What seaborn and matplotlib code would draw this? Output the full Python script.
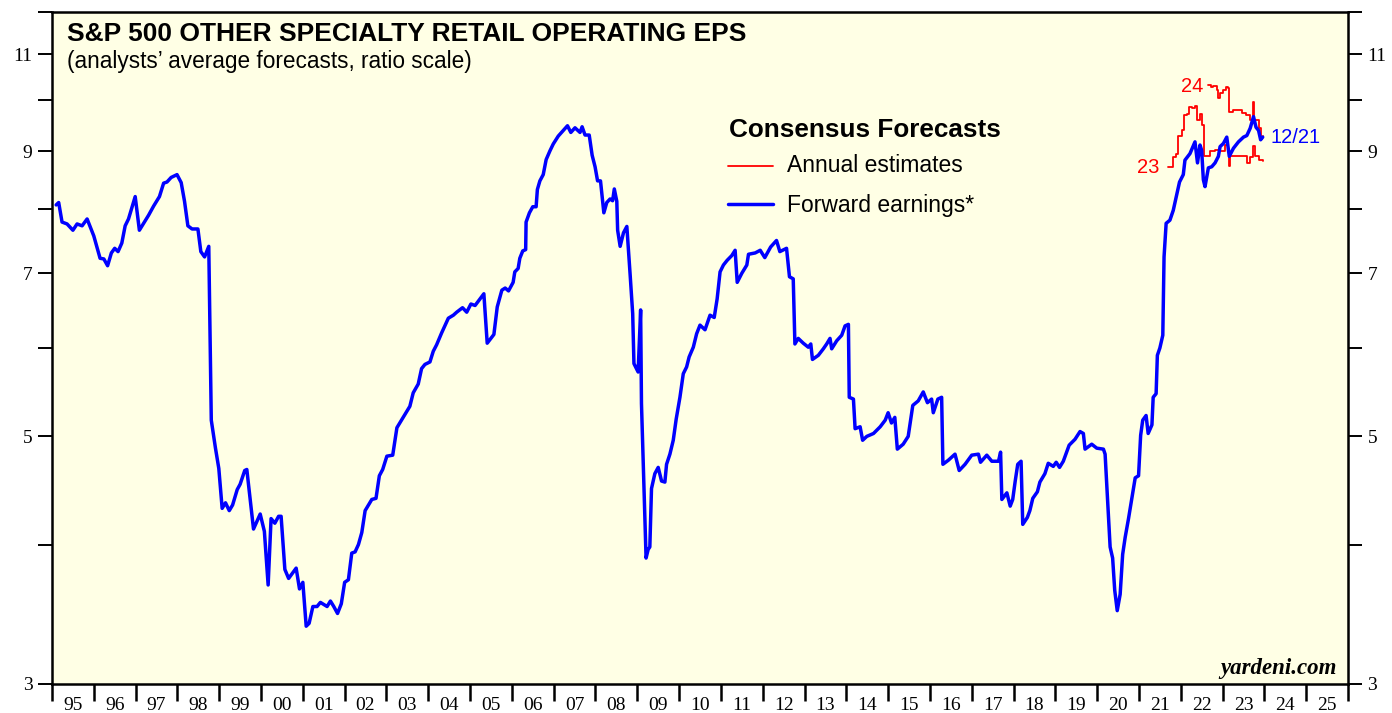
import matplotlib
matplotlib.use("Agg")
import matplotlib.pyplot as plt
import seaborn as sns
import pandas as pd
from matplotlib.ticker import FixedLocator, FuncFormatter, NullLocator
from matplotlib.lines import Line2D

# ---------------- data (decimal year, EPS) ----------------
blue_dates = [
    1995.10, 1995.16, 1995.24, 1995.36, 1995.50, 1995.60, 1995.72, 1995.84, 1996.00, 1996.15,
    1996.24, 1996.33, 1996.42, 1996.50, 1996.58, 1996.67, 1996.75, 1996.83, 1996.99, 1997.09,
    1997.31, 1997.43, 1997.57, 1997.67, 1997.75, 1997.85, 1997.99, 1998.09, 1998.17, 1998.25,
    1998.35, 1998.49, 1998.56, 1998.65, 1998.75, 1998.81, 1998.91, 1998.99, 1999.07, 1999.15,
    1999.24, 1999.32, 1999.43, 1999.50, 1999.61, 1999.66, 1999.82, 1999.98, 2000.08, 2000.17,
    2000.24, 2000.33, 2000.42, 2000.48, 2000.57, 2000.66, 2000.84, 2000.92, 2001.00, 2001.08,
    2001.15, 2001.24, 2001.34, 2001.42, 2001.58, 2001.66, 2001.74, 2001.83, 2001.92, 2002.00,
    2002.09, 2002.17, 2002.25, 2002.33, 2002.41, 2002.49, 2002.65, 2002.75, 2002.83, 2002.91,
    2003.01, 2003.15, 2003.25, 2003.56, 2003.64, 2003.76, 2003.84, 2003.92, 2004.04, 2004.12,
    2004.20, 2004.32, 2004.48, 2004.60, 2004.68, 2004.82, 2004.92, 2005.02, 2005.12, 2005.33,
    2005.41, 2005.57, 2005.65, 2005.76, 2005.84, 2005.92, 2006.03, 2006.07, 2006.15, 2006.19,
    2006.26, 2006.33, 2006.34, 2006.42, 2006.50, 2006.58, 2006.61, 2006.67, 2006.75, 2006.82,
    2006.91, 2006.99, 2007.11, 2007.23, 2007.33, 2007.41, 2007.51, 2007.63, 2007.68, 2007.75,
    2007.85, 2007.92, 2007.99, 2008.05, 2008.12, 2008.20, 2008.27, 2008.35, 2008.41, 2008.45,
    2008.51, 2008.53, 2008.59, 2008.67, 2008.75, 2008.83, 2008.89, 2008.92, 2009.02, 2009.08,
    2009.10, 2009.21, 2009.26, 2009.30, 2009.34, 2009.42, 2009.50, 2009.58, 2009.66, 2009.70,
    2009.78, 2009.86, 2009.93, 2010.02, 2010.10, 2010.18, 2010.24, 2010.34, 2010.42, 2010.50,
    2010.62, 2010.74, 2010.84, 2010.91, 2010.98, 2011.06, 2011.15, 2011.26, 2011.34, 2011.39,
    2011.50, 2011.62, 2011.66, 2011.82, 2011.94, 2012.05, 2012.19, 2012.33, 2012.41, 2012.57,
    2012.64, 2012.73, 2012.77, 2012.85, 2012.97, 2013.09, 2013.15, 2013.19, 2013.33, 2013.45,
    2013.53, 2013.61, 2013.65, 2013.77, 2013.89, 2013.97, 2014.05, 2014.07, 2014.17, 2014.21,
    2014.33, 2014.39, 2014.49, 2014.65, 2014.81, 2014.93, 2015.00, 2015.08, 2015.16, 2015.22,
    2015.36, 2015.48, 2015.59, 2015.72, 2015.84, 2015.94, 2016.04, 2016.08, 2016.19, 2016.28,
    2016.31, 2016.44, 2016.60, 2016.70, 2016.84, 2017.00, 2017.16, 2017.21, 2017.36, 2017.48,
    2017.64, 2017.69, 2017.72, 2017.84, 2017.92, 2017.98, 2018.04, 2018.10, 2018.18, 2018.22,
    2018.33, 2018.39, 2018.46, 2018.57, 2018.63, 2018.75, 2018.83, 2018.95, 2019.02, 2019.10,
    2019.19, 2019.33, 2019.47, 2019.59, 2019.67, 2019.71, 2019.87, 2019.99, 2020.15, 2020.19,
    2020.31, 2020.37, 2020.42, 2020.48, 2020.55, 2020.61, 2020.67, 2020.75, 2020.83, 2020.91,
    2020.99, 2021.04, 2021.09, 2021.17, 2021.22, 2021.31, 2021.34, 2021.41, 2021.44, 2021.50,
    2021.57, 2021.60, 2021.65, 2021.74, 2021.82, 2021.89, 2021.97, 2022.06, 2022.10, 2022.22,
    2022.34, 2022.40, 2022.46, 2022.50, 2022.54, 2022.58, 2022.66, 2022.74, 2022.82, 2022.90,
    2022.94, 2023.02, 2023.10, 2023.16, 2023.26, 2023.38, 2023.50, 2023.58, 2023.66, 2023.74,
    2023.80, 2023.86, 2023.91, 2023.96,
]
blue_values = [
    8.06, 8.10, 7.78, 7.75, 7.65, 7.75, 7.72, 7.83, 7.56, 7.22,
    7.21, 7.11, 7.30, 7.37, 7.32, 7.45, 7.72, 7.83, 8.20, 7.65,
    7.89, 8.04, 8.20, 8.43, 8.45, 8.53, 8.58, 8.44, 8.12, 7.72,
    7.67, 7.67, 7.32, 7.24, 7.40, 5.17, 4.88, 4.68, 4.31, 4.36,
    4.29, 4.34, 4.48, 4.53, 4.66, 4.67, 4.13, 4.26, 4.11, 3.68,
    4.22, 4.18, 4.24, 4.24, 3.80, 3.73, 3.81, 3.65, 3.70, 3.38,
    3.40, 3.52, 3.52, 3.55, 3.52, 3.56, 3.52, 3.47, 3.54, 3.70,
    3.72, 3.93, 3.94, 4.00, 4.10, 4.29, 4.39, 4.40, 4.61, 4.67,
    4.80, 4.81, 5.09, 5.32, 5.47, 5.57, 5.75, 5.80, 5.83, 5.96,
    6.04, 6.19, 6.38, 6.42, 6.46, 6.52, 6.46, 6.57, 6.55, 6.71,
    6.06, 6.17, 6.53, 6.76, 6.79, 6.75, 6.87, 7.02, 7.07, 7.22,
    7.33, 7.35, 7.78, 7.93, 8.03, 8.03, 8.32, 8.47, 8.58, 8.85,
    9.01, 9.14, 9.29, 9.40, 9.49, 9.36, 9.45, 9.36, 9.47, 9.31,
    9.31, 8.93, 8.72, 8.47, 8.47, 7.93, 8.10, 8.16, 8.13, 8.33,
    8.12, 7.65, 7.40, 7.61, 7.71, 6.97, 6.44, 5.81, 5.71, 6.49,
    5.35, 3.89, 3.96, 3.98, 4.49, 4.63, 4.69, 4.56, 4.55, 4.72,
    4.82, 4.96, 5.18, 5.42, 5.69, 5.77, 5.89, 6.01, 6.18, 6.29,
    6.23, 6.42, 6.39, 6.64, 7.02, 7.12, 7.19, 7.26, 7.34, 6.87,
    7.00, 7.12, 7.28, 7.30, 7.34, 7.23, 7.39, 7.49, 7.32, 7.37,
    6.95, 6.92, 6.05, 6.12, 6.06, 6.01, 6.05, 5.86, 5.91, 5.99,
    6.05, 6.12, 5.99, 6.09, 6.16, 6.28, 6.30, 5.42, 5.40, 5.08,
    5.10, 4.96, 5.00, 5.03, 5.10, 5.17, 5.25, 5.14, 5.20, 4.87,
    4.92, 5.00, 5.33, 5.38, 5.48, 5.36, 5.40, 5.25, 5.40, 5.42,
    4.72, 4.76, 4.82, 4.66, 4.72, 4.81, 4.82, 4.74, 4.81, 4.75,
    4.75, 4.84, 4.39, 4.45, 4.33, 4.39, 4.56, 4.72, 4.75, 4.17,
    4.23, 4.29, 4.40, 4.46, 4.55, 4.63, 4.73, 4.70, 4.74, 4.69,
    4.75, 4.91, 4.97, 5.05, 5.03, 4.87, 4.92, 4.88, 4.87, 4.82,
    3.98, 3.89, 3.64, 3.49, 3.61, 3.92, 4.06, 4.22, 4.40, 4.59,
    4.61, 5.01, 5.17, 5.22, 5.03, 5.12, 5.42, 5.46, 5.91, 6.00,
    6.16, 7.24, 7.76, 7.81, 7.97, 8.19, 8.45, 8.58, 8.84, 8.96,
    9.18, 8.79, 9.12, 9.02, 8.49, 8.37, 8.70, 8.72, 8.79, 8.91,
    9.09, 9.15, 9.27, 8.91, 9.06, 9.18, 9.27, 9.30, 9.44, 9.67,
    9.46, 9.40, 9.22, 9.27,
]

est23_dates = [2021.70, 2021.78, 2021.82, 2021.89, 2021.94, 2022.02, 2022.08, 2022.14, 2022.20,
               2022.28, 2022.34, 2022.40, 2022.45, 2022.50, 2022.56, 2022.62, 2022.70, 2022.82,
               2022.94, 2023.06, 2023.14, 2023.16, 2023.18, 2023.30, 2023.42, 2023.54, 2023.58,
               2023.66, 2023.72, 2023.78, 2023.86, 2023.96]
est23_values = [8.71, 8.71, 8.90, 8.96, 9.30, 9.40, 9.70, 9.73, 9.87,
                9.84, 9.89, 9.60, 9.73, 9.50, 8.91, 8.91, 9.00, 9.03,
                9.00, 9.12, 9.03, 8.73, 8.91, 8.92, 8.91, 8.91, 8.79,
                8.90, 9.10, 8.91, 8.85, 8.82]

est24_dates = [2022.66, 2022.72, 2022.78, 2022.87, 2022.90, 2022.94, 2023.02, 2023.09, 2023.12,
               2023.16, 2023.26, 2023.38, 2023.46, 2023.56, 2023.66, 2023.72, 2023.76, 2023.86,
               2023.91, 2023.97]
est24_values = [10.32, 10.28, 10.30, 10.21, 10.05, 10.15, 10.21, 10.28, 10.26,
                9.77, 9.81, 9.80, 9.75, 9.70, 9.60, 9.97, 9.60, 9.44,
                9.27, 9.29]

year_labels = ["95", "96", "97", "98", "99", "00", "01", "02", "03", "04", "05", "06",
               "07", "08", "09", "10", "11", "12", "13", "14", "15", "16", "17", "18",
               "19", "20", "21", "22", "23", "24", "25"]
y_ticks = [3, 4, 5, 6, 7, 8, 9, 10, 11, 12]
y_labeled = [3, 5, 7, 9, 11]

# ---------------- figure ----------------
sns.set_style("ticks")
plt.rcParams['font.family'] = ['Liberation Sans', 'DejaVu Sans']
plt.rcParams['text.color'] = 'black'
plt.rcParams['xtick.color'] = 'black'
plt.rcParams['ytick.color'] = 'black'
plt.rcParams['axes.labelcolor'] = 'black'

W, H = 1392, 713
fig = plt.figure(figsize=(W / 100, H / 100), dpi=100)
fig.patch.set_facecolor('white')
ax = fig.add_axes([52 / W, (H - 684) / H, (1348 - 52) / W, (684 - 12) / H])
ax.set_facecolor('#FFFFE5')

blue_df = pd.DataFrame({"date": blue_dates, "eps": blue_values})
e23 = pd.DataFrame({"date": est23_dates, "eps": est23_values})
e24 = pd.DataFrame({"date": est24_dates, "eps": est24_values})

sns.lineplot(data=e23, x="date", y="eps", ax=ax, color='#FF0000', linewidth=1.3,
             estimator=None, sort=False, drawstyle='steps-post')
sns.lineplot(data=e24, x="date", y="eps", ax=ax, color='#FF0000', linewidth=1.3,
             estimator=None, sort=False, drawstyle='steps-post')
sns.lineplot(data=blue_df, x="date", y="eps", ax=ax, color='#0000FF', linewidth=2.5,
             estimator=None, sort=False)

ax.set_yscale('log')
ax.set_ylim(3, 12)
ax.set_xlim(1995, 2026)
ax.set_xlabel("")
ax.set_ylabel("")

serif = ['Liberation Serif', 'DejaVu Serif']

# y axis ticks on both sides
ax.yaxis.set_major_locator(FixedLocator(y_ticks))
ax.yaxis.set_minor_locator(NullLocator())
ax.yaxis.set_major_formatter(FuncFormatter(lambda v, p: f"{int(round(v))}" if int(round(v)) in y_labeled else ""))
ax.tick_params(axis='y', which='major', direction='out', length=10, width=1.4,
               left=True, right=True, labelleft=True, labelright=True, pad=4,
               labelsize=14, colors='black')
for lab in ax.get_yticklabels():
    lab.set_fontfamily(serif)

# x axis: year boundaries as ticks, labels centered
years = list(range(1995, 2027))
ax.xaxis.set_major_locator(FixedLocator(years))
ax.xaxis.set_major_formatter(FuncFormatter(lambda v, p: ""))
mids = [y + 0.5 for y in range(1995, 2026)]
ax.xaxis.set_minor_locator(FixedLocator(mids))
ax.xaxis.set_minor_formatter(FuncFormatter(lambda v, p: year_labels[int(v - 1995)] if 0 <= int(v - 1995) < len(year_labels) else ""))
ax.tick_params(axis='x', which='major', direction='out', length=12, width=1.8, colors='black')
ax.tick_params(axis='x', which='minor', length=0, pad=9, labelsize=14, colors='black')
for lab in ax.get_xticklabels(minor=True):
    lab.set_fontfamily(serif)

for s in ax.spines.values():
    s.set_linewidth(1.8)
    s.set_color('black')
    s.set_visible(True)

# ---------------- texts ----------------
fig.text(67 / W, 1 - 41 / H, "S&P 500 OTHER SPECIALTY RETAIL OPERATING EPS",
         fontsize=19, fontweight='bold', ha='left', va='baseline', color='black')
fig.text(67 / W, 1 - 68 / H, "(analysts\u2019 average forecasts, ratio scale)",
         fontsize=16.3, ha='left', va='baseline', color='black')

# legend
fig.text(729 / W, 1 - 137 / H, "Consensus Forecasts", fontsize=18.8, fontweight='bold',
         ha='left', va='baseline', color='black')
fig.add_artist(Line2D([728 / W, 773 / W], [1 - 165.5 / H, 1 - 165.5 / H],
                      color='#FF0000', linewidth=1.3, transform=fig.transFigure))
fig.text(787 / W, 1 - 172 / H, "Annual estimates", fontsize=16.5, ha='left', va='baseline',
         color='black')
fig.add_artist(Line2D([728 / W, 773 / W], [1 - 204 / H, 1 - 204 / H],
                      color='#0000FF', linewidth=2.5, transform=fig.transFigure))
fig.text(787 / W, 1 - 212 / H, "Forward earnings*", fontsize=16.5, ha='left', va='baseline',
         color='black')

# series labels
ax.text(2021.5, est23_values[0], "23", color='#FF0000', fontsize=14.5, ha='right', va='center')
ax.text(2022.53, 10.28, "24", color='#FF0000', fontsize=14.5, ha='right', va='center')
ax.text(2024.15, blue_values[-1], "12/21", color='#0000FF', fontsize=14.5, ha='left', va='center')

fig.text(1337 / W, 1 - 674 / H, "yardeni.com", fontsize=16.5, fontweight='bold',
         fontstyle='italic', family=serif, ha='right', va='baseline', color='black')

fig.savefig("out.png", dpi=100, facecolor='white')
